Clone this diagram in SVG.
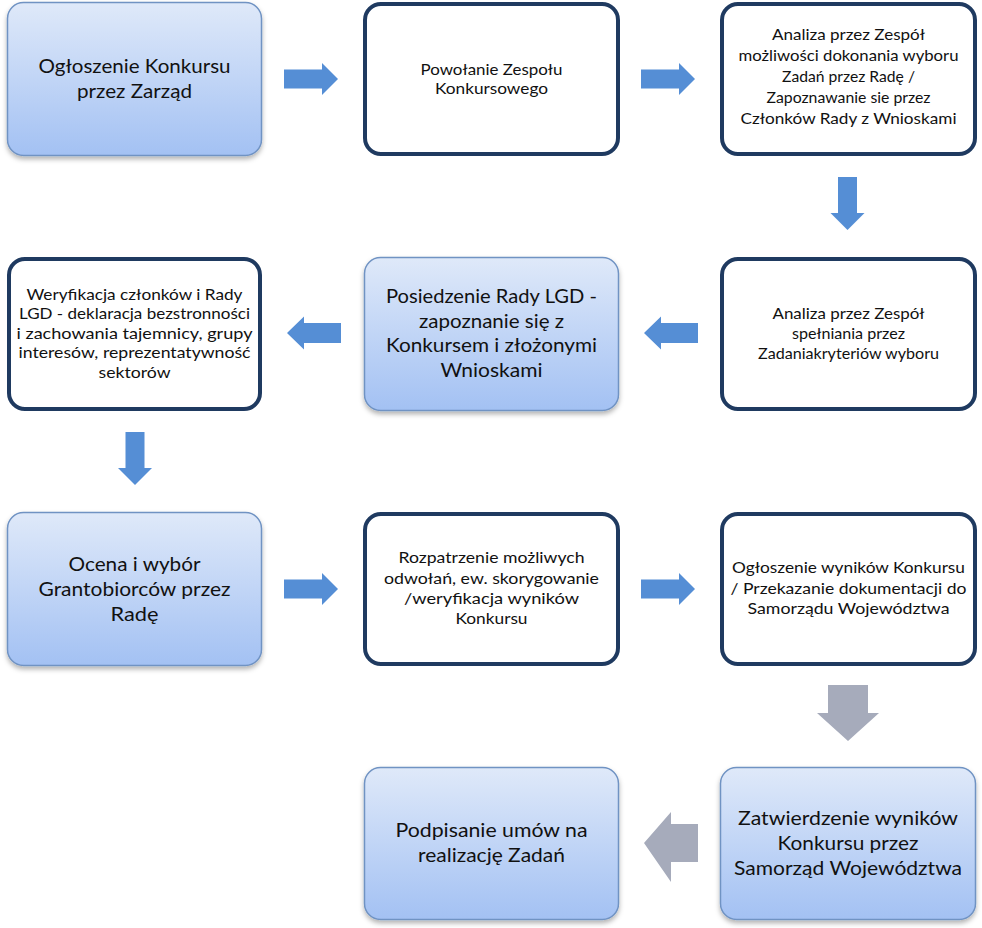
<svg xmlns="http://www.w3.org/2000/svg" width="982" height="928" viewBox="0 0 982 928">
<defs>
<linearGradient id="g" x1="0" y1="0" x2="0" y2="1">
<stop offset="0" stop-color="#dfe9f9"/>
<stop offset="1" stop-color="#a3c1f3"/>
</linearGradient>
<filter id="sh" x="-10%" y="-10%" width="120%" height="125%">
<feDropShadow dx="0" dy="3" stdDeviation="2.5" flood-color="#000" flood-opacity="0.3"/>
</filter>
<style>
.gb{fill:url(#g);stroke:#7093c3;stroke-width:1.5;filter:url(#sh)}
.wb{fill:#fff;stroke:#1f3a60;stroke-width:4}
.big{font-family:Lato,"Open Sans","Liberation Sans",sans-serif;font-size:20px;fill:#111;text-anchor:middle}
.sm{font-family:Lato,"Open Sans","Liberation Sans",sans-serif;font-size:15px;fill:#111;text-anchor:middle}
.ba{fill:#558ed5}
.ga{fill:#a6abbb}
</style>
</defs>
<rect width="982" height="928" fill="#fff"/>

<g id="connectors">
<polygon class="ba" points="284,69.5 322,69.5 322,63 338,79 322,95 322,88.5 284,88.5"/>
<polygon class="ba" points="641,69.5 679,69.5 679,63 695,79 679,95 679,88.5 641,88.5"/>
<polygon class="ba" points="838,177 857,177 857,213 864.5,213 847.5,230 830.5,213 838,213"/>
<polygon class="ba" points="644,333 661,316.5 661,323 698,323 698,343 661,343 661,349.5"/>
<polygon class="ba" points="287,333 304,316.5 304,323 341,323 341,343 304,343 304,349.5"/>
<polygon class="ba" points="125.5,432 144.5,432 144.5,468 152,468 135,485 118,468 125.5,468"/>
<polygon class="ba" points="284,579.5 322,579.5 322,573 338,589 322,605 322,598.5 284,598.5"/>
<polygon class="ba" points="641,579.5 679,579.5 679,573 695,589 679,605 679,598.5 641,598.5"/>
<polygon class="ga" points="828,685 868,685 868,713 879,713 848,741 817,713 828,713"/>
<polygon class="ga" points="644,843 671,812 671,824 698,824 698,862 671,862 671,882"/>
</g>

<g id="n1">
<rect class="gb" x="7.5" y="2.5" width="254" height="153" rx="16"/>
<text class="big" x="134.5" y="72.5" textLength="192" lengthAdjust="spacingAndGlyphs">Ogłoszenie Konkursu</text>
<text class="big" x="134.5" y="97.5" textLength="115" lengthAdjust="spacingAndGlyphs">przez Zarząd</text>
</g>

<g id="n2">
<rect class="wb" x="365" y="4" width="253" height="150" rx="16"/>
<text class="sm" x="491.5" y="74.5" textLength="142" lengthAdjust="spacingAndGlyphs">Powołanie Zespołu</text>
<text class="sm" x="491.5" y="93.5" textLength="113" lengthAdjust="spacingAndGlyphs">Konkursowego</text>
</g>

<g id="n3">
<rect class="wb" x="722" y="4" width="253" height="150" rx="16"/>
<text class="sm" x="848.5" y="40" textLength="153" lengthAdjust="spacingAndGlyphs">Analiza przez Zespół</text>
<text class="sm" x="848.5" y="61" textLength="220" lengthAdjust="spacingAndGlyphs">możliwości dokonania wyboru</text>
<text class="sm" x="848.5" y="82" textLength="133" lengthAdjust="spacingAndGlyphs">Zadań przez Radę /</text>
<text class="sm" x="848.5" y="103" textLength="164" lengthAdjust="spacingAndGlyphs">Zapoznawanie sie przez</text>
<text class="sm" x="848.5" y="124" textLength="216" lengthAdjust="spacingAndGlyphs">Członków Rady z Wnioskami</text>
</g>

<g id="n4">
<rect class="wb" x="722" y="259" width="253" height="150" rx="16"/>
<text class="sm" x="848.5" y="318.5" textLength="152" lengthAdjust="spacingAndGlyphs">Analiza przez Zespół</text>
<text class="sm" x="848.5" y="338.5" textLength="113" lengthAdjust="spacingAndGlyphs">spełniania przez</text>
<text class="sm" x="848.5" y="358.5" textLength="181" lengthAdjust="spacingAndGlyphs">Zadaniakryteriów wyboru</text>
</g>

<g id="n5">
<rect class="gb" x="364.5" y="257.5" width="254" height="153" rx="16"/>
<text class="big" x="491.5" y="303" textLength="211" lengthAdjust="spacingAndGlyphs">Posiedzenie Rady LGD -</text>
<text class="big" x="491.5" y="327.5" textLength="145" lengthAdjust="spacingAndGlyphs">zapoznanie się z</text>
<text class="big" x="491.5" y="352" textLength="211" lengthAdjust="spacingAndGlyphs">Konkursem i złożonymi</text>
<text class="big" x="491.5" y="376.5" textLength="102" lengthAdjust="spacingAndGlyphs">Wnioskami</text>
</g>

<g id="n6">
<rect class="wb" x="9" y="259" width="251" height="150" rx="16"/>
<text class="sm" x="134.5" y="299.5" textLength="216" lengthAdjust="spacingAndGlyphs">Weryfikacja członków i Rady</text>
<text class="sm" x="134.5" y="319" textLength="231" lengthAdjust="spacingAndGlyphs">LGD - deklaracja bezstronności</text>
<text class="sm" x="134.5" y="338.5" textLength="236" lengthAdjust="spacingAndGlyphs">i zachowania tajemnicy, grupy</text>
<text class="sm" x="134.5" y="358" textLength="232" lengthAdjust="spacingAndGlyphs">interesów, reprezentatywność</text>
<text class="sm" x="134.5" y="377.5" textLength="72" lengthAdjust="spacingAndGlyphs">sektorów</text>
</g>

<g id="n7">
<rect class="gb" x="7.5" y="512.5" width="254" height="153" rx="16"/>
<text class="big" x="134.5" y="571" textLength="132" lengthAdjust="spacingAndGlyphs">Ocena i wybór</text>
<text class="big" x="134.5" y="596" textLength="192" lengthAdjust="spacingAndGlyphs">Grantobiorców przez</text>
<text class="big" x="134.5" y="621" textLength="48" lengthAdjust="spacingAndGlyphs">Radę</text>
</g>

<g id="n8">
<rect class="wb" x="365" y="514" width="253" height="150" rx="16"/>
<text class="sm" x="491.5" y="563" textLength="186" lengthAdjust="spacingAndGlyphs">Rozpatrzenie możliwych</text>
<text class="sm" x="491.5" y="583.5" textLength="215" lengthAdjust="spacingAndGlyphs">odwołań, ew. skorygowanie</text>
<text class="sm" x="491.5" y="604" textLength="175" lengthAdjust="spacingAndGlyphs">/weryfikacja wyników</text>
<text class="sm" x="491.5" y="624" textLength="72" lengthAdjust="spacingAndGlyphs">Konkursu</text>
</g>

<g id="n9">
<rect class="wb" x="722" y="514" width="253" height="150" rx="16"/>
<text class="sm" x="848.5" y="573" textLength="233" lengthAdjust="spacingAndGlyphs">Ogłoszenie wyników Konkursu</text>
<text class="sm" x="848.5" y="593.5" textLength="236" lengthAdjust="spacingAndGlyphs">/ Przekazanie dokumentacji do</text>
<text class="sm" x="848.5" y="614" textLength="202" lengthAdjust="spacingAndGlyphs">Samorządu Województwa</text>
</g>

<g id="n10">
<rect class="gb" x="720.5" y="767.5" width="255" height="152" rx="16"/>
<text class="big" x="848" y="825" textLength="220" lengthAdjust="spacingAndGlyphs">Zatwierdzenie wyników</text>
<text class="big" x="848" y="850" textLength="141" lengthAdjust="spacingAndGlyphs">Konkursu przez</text>
<text class="big" x="848" y="875" textLength="228" lengthAdjust="spacingAndGlyphs">Samorząd Województwa</text>
</g>

<g id="n11">
<rect class="gb" x="364.5" y="767.5" width="254" height="152" rx="16"/>
<text class="big" x="491.5" y="837" textLength="192" lengthAdjust="spacingAndGlyphs">Podpisanie umów na</text>
<text class="big" x="491.5" y="862" textLength="147" lengthAdjust="spacingAndGlyphs">realizację Zadań</text>
</g>
</svg>
